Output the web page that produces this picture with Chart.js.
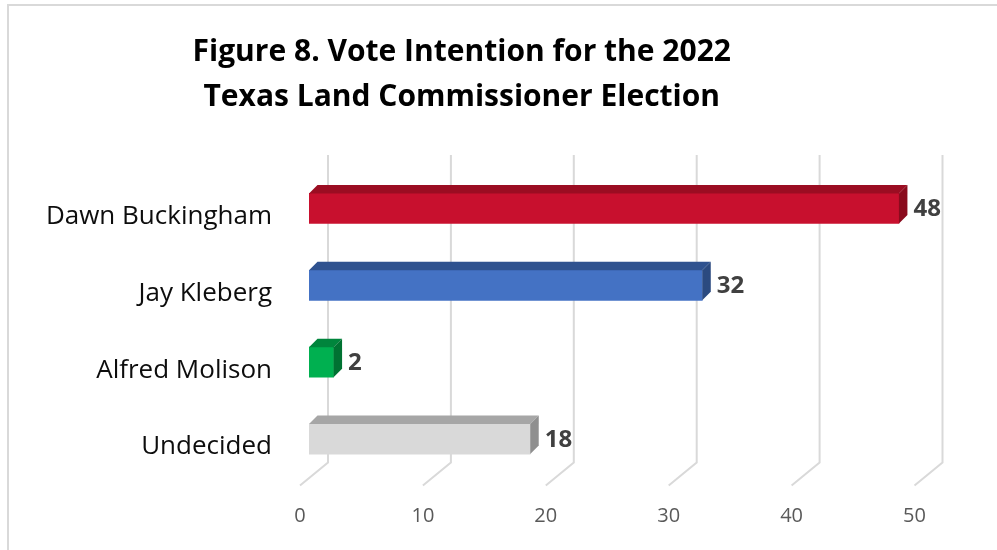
<!DOCTYPE html>
<html>
<head>
<meta charset="utf-8">
<script src="https://cdn.jsdelivr.net/npm/chart.js@4"></script>
<style>
  html, body { margin: 0; padding: 0; background: #fff; }
  #wrap { width: 997px; height: 550px; position: relative; }
</style>
</head>
<body>
<div id="wrap"><canvas id="vote-chart" width="997" height="550"></canvas></div>
<script>
const candidates = ['Dawn Buckingham', 'Jay Kleberg', 'Alfred Molison', 'Undecided']
const shares = [48, 32, 2, 18]
const tickValues = [0, 10, 20, 30, 40, 50]

const FONT = '"Open Sans", Lato, sans-serif'

// front / top / side shades for each bar
const frontColors = ['#C8102E', '#4472C4', '#00B050', '#D9D9D9']
const topColors = ['#9B0D22', '#2F528F', '#00853C', '#A6A6A6']
const sideColors = ['#8A0B1D', '#2B4A80', '#007232', '#8F8F8F']

const DEPTH = 8.5        // depth of each bar block
const WALL_DX = 19       // back wall offset from bar front plane
const WALL_DY = 15
const FLOOR_DX = 9       // front floor edge offset
const FLOOR_DY = 8

// light frame around the whole figure
const framePlugin = {
  id: 'frame',
  beforeDraw(chart) {
    const ctx = chart.ctx
    ctx.save()
    ctx.strokeStyle = '#D9D9D9'
    ctx.lineWidth = 2
    ctx.strokeRect(8, 5, chart.width + 20, chart.height + 20)
    ctx.restore()
  }
}

// gridlines on the back wall, bent forward across the floor
const wallGridPlugin = {
  id: 'wallGrid',
  beforeDatasetsDraw(chart) {
    const { ctx, chartArea, scales } = chart
    ctx.save()
    ctx.strokeStyle = '#D9D9D9'
    ctx.lineWidth = 2
    tickValues.forEach(v => {
      const px = scales.x.getPixelForValue(v)
      ctx.beginPath()
      ctx.moveTo(px + WALL_DX, chartArea.top - WALL_DY)
      ctx.lineTo(px + WALL_DX, chartArea.bottom - WALL_DY)
      ctx.lineTo(px - FLOOR_DX, chartArea.bottom + FLOOR_DY)
      ctx.stroke()
    })
    ctx.restore()
  }
}

// top and side faces of each bar, plus the value labels
const blockPlugin = {
  id: 'blocks',
  afterDatasetsDraw(chart) {
    const ctx = chart.ctx
    const meta = chart.getDatasetMeta(0)
    ctx.save()
    meta.data.forEach((bar, i) => {
      const { x, y, base, height } = bar.getProps(['x', 'y', 'base', 'height'], true)
      const top = y - height / 2
      const bottom = y + height / 2

      ctx.fillStyle = topColors[i]
      ctx.beginPath()
      ctx.moveTo(base, top)
      ctx.lineTo(x, top)
      ctx.lineTo(x + DEPTH, top - DEPTH)
      ctx.lineTo(base + DEPTH, top - DEPTH)
      ctx.closePath()
      ctx.fill()

      ctx.fillStyle = sideColors[i]
      ctx.beginPath()
      ctx.moveTo(x, top)
      ctx.lineTo(x + DEPTH, top - DEPTH)
      ctx.lineTo(x + DEPTH, bottom - DEPTH)
      ctx.lineTo(x, bottom)
      ctx.closePath()
      ctx.fill()

      ctx.fillStyle = '#404040'
      ctx.font = 'bold 24px ' + FONT
      ctx.textAlign = 'left'
      ctx.textBaseline = 'middle'
      ctx.fillText(String(shares[i]), x + DEPTH + 6, y + 1)
    })
    ctx.restore()
  }
}

new Chart(document.getElementById('vote-chart'), {
  type: 'bar',
  data: {
    labels: candidates,
    datasets: [{
      data: shares,
      backgroundColor: frontColors,
      borderWidth: 0,
      barThickness: 30
    }]
  },
  options: {
    indexAxis: 'y',
    responsive: false,
    animation: false,
    layout: { padding: { left: 0, right: 73.5, top: 0, bottom: 0 } },
    scales: {
      x: {
        min: 0,
        max: 50,
        afterBuildTicks(scale) {
          scale.ticks = tickValues.map(v => ({ value: v }))
        },
        afterFit(scale) { scale.height = 72.5 },
        grid: { display: false, drawTicks: false },
        border: { display: false },
        ticks: {
          color: '#595959',
          font: { family: FONT, size: 20 },
          padding: 27,
          labelOffset: -FLOOR_DX
        }
      },
      y: {
        afterFit(scale) { scale.width = 309 },
        grid: { display: false, drawTicks: false },
        border: { display: false },
        ticks: {
          color: '#0D0D0D',
          font: { family: FONT, size: 26 },
          padding: 37,
          labelOffset: 8
        }
      }
    },
    plugins: {
      legend: { display: false },
      tooltip: { enabled: false },
      title: {
        display: true,
        text: ['Figure 8. Vote Intention for the 2022', 'Texas Land Commissioner Election'],
        color: '#000',
        font: { family: FONT, size: 30, weight: 'bold', lineHeight: 1.5 },
        padding: { top: 30, bottom: 50 }
      }
    }
  },
  plugins: [framePlugin, wallGridPlugin, blockPlugin]
})
</script>
</body>
</html>
